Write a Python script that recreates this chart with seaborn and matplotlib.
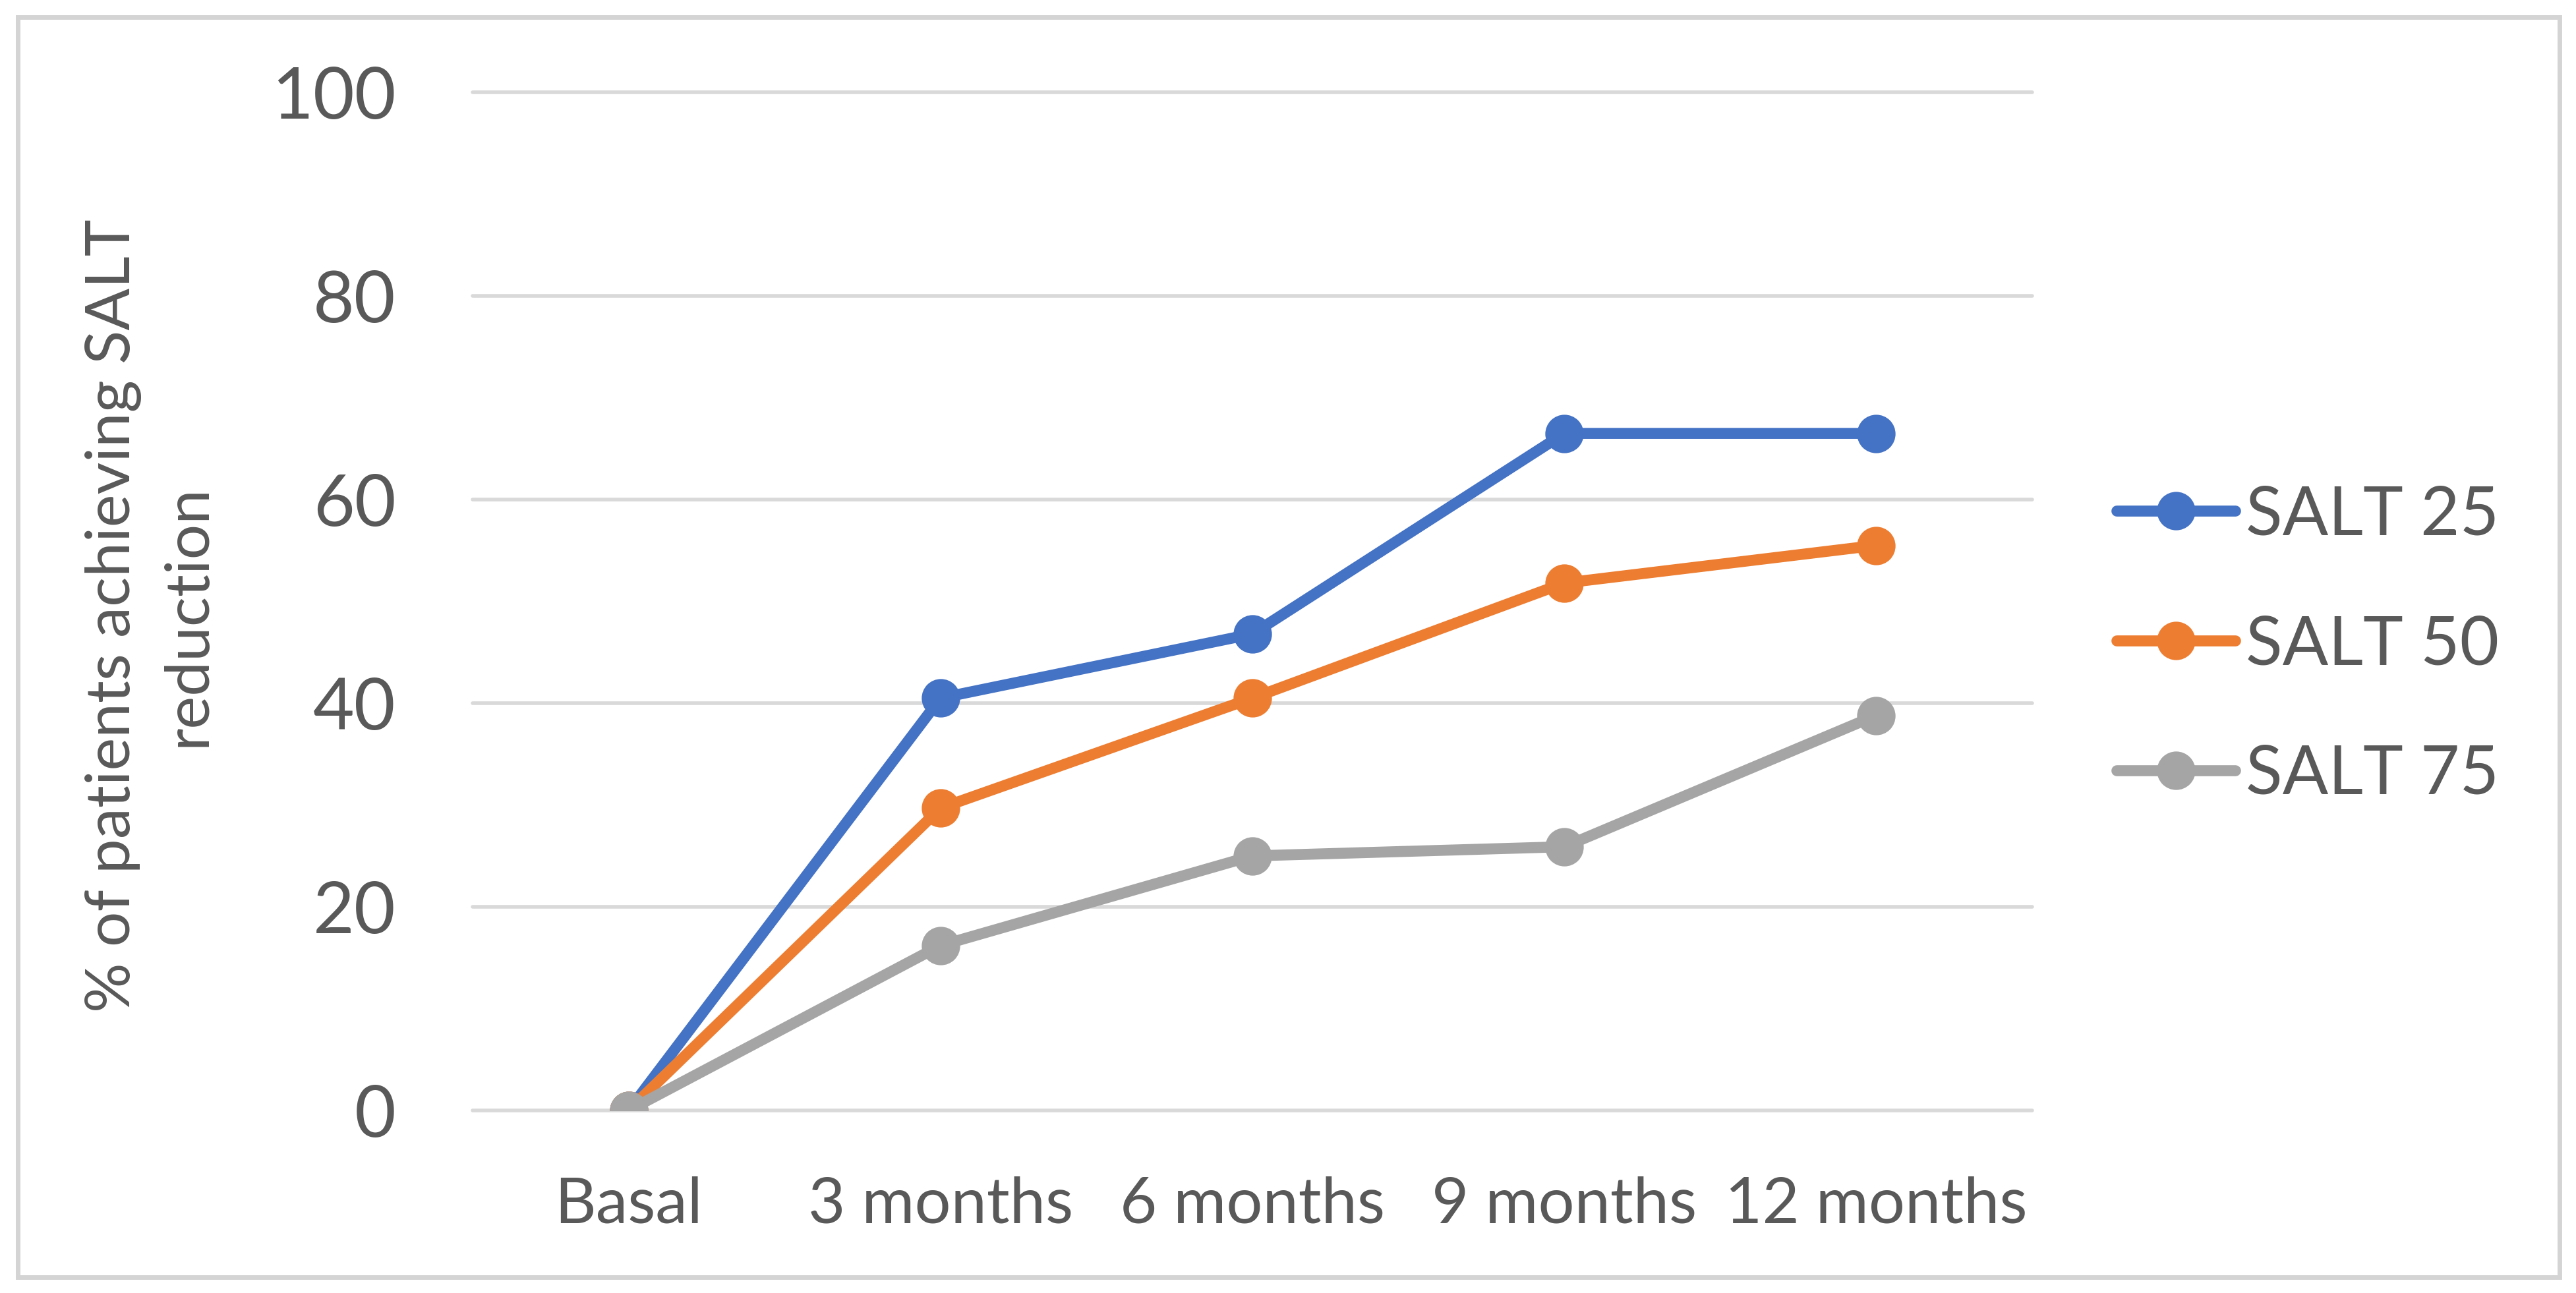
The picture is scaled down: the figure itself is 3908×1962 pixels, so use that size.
import matplotlib
matplotlib.use("Agg")
import matplotlib.pyplot as plt
from matplotlib.patches import Rectangle
import seaborn as sns
import pandas as pd

# data
timepoints = ["Basal", "3 months", "6 months", "9 months", "12 months"]
salt25 = [0, 40.5, 46.8, 66.5, 66.5]
salt50 = [0, 29.7, 40.5, 51.8, 55.5]
salt75 = [0, 16.2, 25.0, 25.9, 38.8]
series_names = ["SALT 25", "SALT 50", "SALT 75"]
colors = ["#4472C4", "#ED7D31", "#A5A5A5"]
yticks = [0, 20, 40, 60, 80, 100]

rows = []
for name, vals in zip(series_names, [salt25, salt50, salt75]):
    for i, v in enumerate(vals):
        rows.append({"pos": i, "value": v, "series": name})
df = pd.DataFrame(rows)

sns.set_theme(style="white")
plt.rcParams["font.family"] = ["Lato", "DejaVu Sans"]
text_color = "#595959"

fig = plt.figure(figsize=(19.54, 9.81), dpi=200)
ax = fig.add_axes([0.1835, 0.1412, 0.6054, 0.7874])

sns.lineplot(data=df, x="pos", y="value", hue="series", palette=colors,
             marker="o", markersize=21, markeredgewidth=0, linewidth=6,
             ax=ax, legend=True)

ax.set_xlim(-0.5, len(timepoints) - 0.5)
ax.set_ylim(0, 100)
ax.set_xticks(range(len(timepoints)))
ax.set_xticklabels(timepoints)
ax.set_yticks(yticks)
ax.tick_params(axis="x", labelsize=35, colors=text_color, pad=36, length=0)
ax.tick_params(axis="y", labelsize=39, colors=text_color, pad=42, length=0)
ax.set_xlabel("")
ax.set_ylabel("")
for s in ax.spines.values():
    s.set_visible(False)
ax.grid(axis="y", color="#D9D9D9", linewidth=2.0)
ax.grid(axis="x", visible=False)
for gl in ax.get_ygridlines():
    gl.set_clip_on(False)
ax.set_axisbelow(True)

fig.text(0.0583, 0.524, "% of patients achieving SALT\nreduction", rotation=90,
         ha="center", va="center", fontsize=34, color=text_color, linespacing=1.42)

handles, labels = ax.get_legend_handles_labels()
ax.legend(handles, labels, loc="center left", bbox_to_anchor=(0.798, 0.501),
          bbox_transform=fig.transFigure, frameon=False, fontsize=37,
          labelcolor=text_color, handlelength=1.75, handletextpad=0.16,
          labelspacing=1.0)

fig.patches.append(Rectangle((0.007, 0.012), 0.9867, 0.9745, transform=fig.transFigure,
                             fill=False, edgecolor="#D4D4D4", linewidth=2.5))

fig.savefig("out.png", dpi=200, facecolor="white")
